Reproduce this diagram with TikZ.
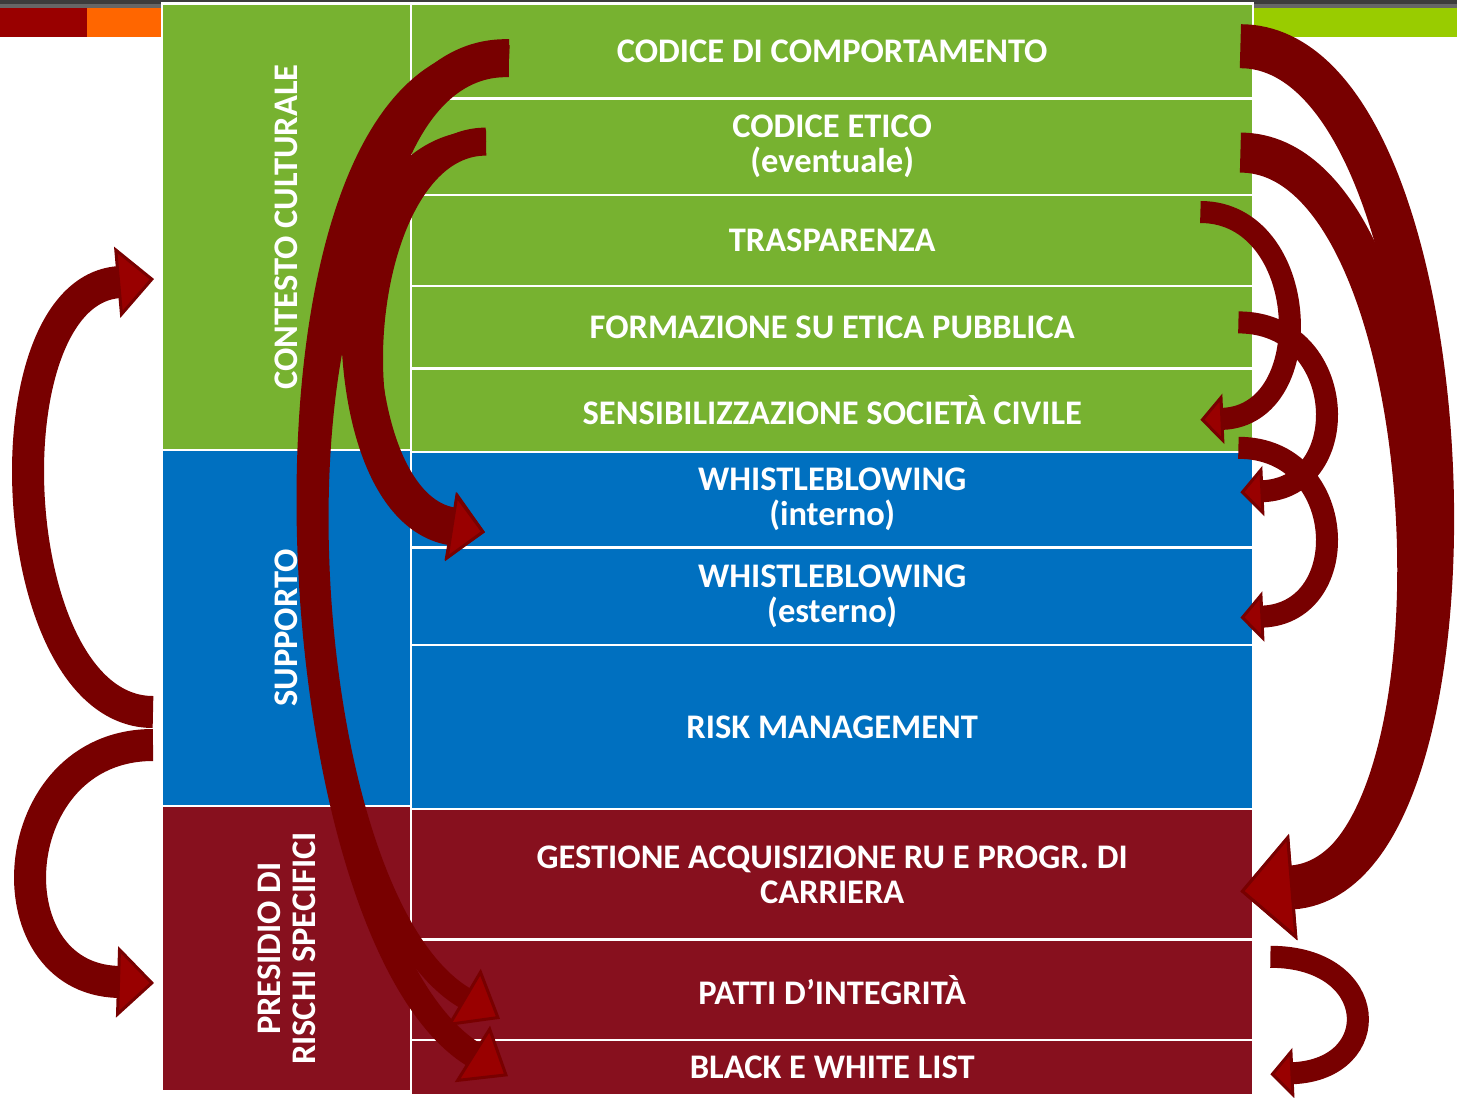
\documentclass[tikz,border=0pt]{standalone}
\usepackage{fontspec}
\setmainfont{Carlito}
\usetikzlibrary{positioning,arrows.meta}

\definecolor{leafgreen}{RGB}{119,178,48}
\definecolor{seablue}{RGB}{0,112,192}
\definecolor{wine}{RGB}{135,16,30}
\definecolor{ribbonred}{RGB}{120,0,0}
\definecolor{tipred}{RGB}{153,0,0}
\definecolor{barred}{RGB}{153,0,0}
\definecolor{barorange}{RGB}{255,102,0}
\definecolor{barlime}{RGB}{153,204,0}
\definecolor{bardark}{RGB}{60,60,60}
\definecolor{bargray}{RGB}{102,102,102}

\tikzset{
    item node/.style={rectangle, inner sep=0, minimum width=840pt, align=center, text=white, font=\fontsize{34.5}{35}\selectfont\bfseries},
    area node/.style={rectangle, inner sep=0, rotate=90, minimum height=247pt, align=center, text=white, font=\fontsize{34.5}{35}\selectfont\bfseries},
    ribbon/.style={draw=ribbonred, line width=#1},
    curl tip/.style 2 args={-{Triangle[length=#1,width=#2,line width=3pt 0,fill=tipred]}}
    }

\begin{document}
\begin{tikzpicture}[x=1pt,y=-1pt]
                \useasboundingbox (0,0) rectangle (1457,1098);
                \fill[bardark] (0,0) rectangle (1457,4);
                \fill[bargray] (0,4) rectangle (1457,7.5);
                \fill[barred] (0,7.5) rectangle (87,36.5);
                \fill[barorange] (87,7.5) rectangle (162,36.5);
                \fill[barlime] (1254,7.5) rectangle (1457,36.5);
                \fill[white] (161,2) rectangle (1254,1092);

                \node(cdc)[item node, fill=leafgreen, minimum height=92pt, anchor=north west] at (412,5) {CODICE DI COMPORTAMENTO};
                \node(etico)[item node, fill=leafgreen, minimum height=94pt, below=2pt of cdc] {CODICE ETICO\\(eventuale)};
                \node(trasp)[item node, fill=leafgreen, minimum height=89pt, below=2pt of etico] {TRASPARENZA};
                \node(form)[item node, fill=leafgreen, minimum height=80pt, below=2pt of trasp] {FORMAZIONE SU ETICA PUBBLICA};
                \node(sens)[item node, fill=leafgreen, minimum height=81pt, below=2pt of form] {SENSIBILIZZAZIONE SOCIETÀ CIVILE};
                \node(wbint)[item node, fill=seablue, minimum height=93pt, below=2pt of sens] {WHISTLEBLOWING\\(interno)};
                \node(wbest)[item node, fill=seablue, minimum height=95pt, below=2pt of wbint] {WHISTLEBLOWING\\(esterno)};
                \node(risk)[item node, fill=seablue, minimum height=162pt, below=2pt of wbest] {RISK MANAGEMENT};
                \node(ru)[item node, fill=wine, minimum height=128pt, below=2pt of risk] {GESTIONE ACQUISIZIONE RU E PROGR. DI\\CARRIERA};
                \node(patti)[item node, fill=wine, minimum height=98pt, below=2pt of ru] {PATTI D’INTEGRITÀ};
                \node(bwl)[item node, fill=wine, minimum height=53pt, below=2pt of patti] {BLACK E WHITE LIST};

                \node(cult)[area node, fill=leafgreen, minimum width=444pt] at (286.5,227) {CONTESTO CULTURALE};
                \node(supp)[area node, fill=seablue, minimum width=354pt] at (286.5,628) {SUPPORTO};
                \node(pres)[area node, fill=wine, minimum width=283pt] at (286.5,948.5) {PRESIDIO DI\\RISCHI SPECIFICI};

                \draw[ribbon=26pt, curl tip={42pt}{66pt}] ([xshift=97pt,yshift=-7pt]cdc.west) .. controls +(-279,-18) and +(-240,-150) .. ([xshift=96pt,yshift=-8.5pt]bwl.west);
                \draw[ribbon=22pt, curl tip={42pt}{66pt}] ([xshift=74pt,yshift=5pt]etico.west) .. controls +(-236,-11) and +(-220,-130) .. ([xshift=88pt,yshift=-29pt]patti.west);
                \draw[ribbon=38pt, curl tip={35pt}{69pt}] ([xshift=97pt,yshift=-7pt]cdc.west) .. controls +(-180,-5) and +(-170,-30) .. ([xshift=73pt,yshift=-32.5pt]wbint.west);
                \draw[ribbon=28pt, curl tip={35pt}{69pt}] ([xshift=74pt,yshift=5pt]etico.west) .. controls +(-136,0) and +(-160,-25) .. ([xshift=73pt,yshift=-32.5pt]wbint.west);

                \draw[ribbon=44pt, curl tip={53pt}{106pt}] ([xshift=-12pt,yshift=5pt]cdc.east) .. controls +(230,0) and +(260,-20) .. ([xshift=-12pt,yshift=-17pt]ru.east);
                \draw[ribbon=40pt, curl tip={53pt}{106pt}] ([xshift=-12pt,yshift=-6pt]etico.east) .. controls +(210,0) and +(240,-20) .. ([xshift=-12pt,yshift=-17pt]ru.east);
                \draw[ribbon=22pt, curl tip={23pt}{50pt}] ([xshift=-52pt,yshift=28.5pt]trasp.east) .. controls +(110,0) and +(120,-5) .. ([xshift=-52pt,yshift=-9.5pt]sens.east);
                \draw[ribbon=22pt, curl tip={23pt}{50pt}] ([xshift=-14pt,yshift=5pt]form.east) .. controls +(110,0) and +(115,-5) .. ([xshift=-12pt,yshift=7.5pt]wbint.east);
                \draw[ribbon=22pt, curl tip={23pt}{50pt}] ([xshift=-14pt,yshift=-37.5pt]sens.east) .. controls +(110,0) and +(115,-5) .. ([xshift=-12pt,yshift=-21.5pt]wbest.east);
                \draw[ribbon=22pt, curl tip={23pt}{50pt}] ([xshift=18pt,yshift=33pt]patti.east) .. controls +(110,0) and +(115,-5) .. ([xshift=18pt,yshift=-6.5pt]bwl.east);

                \draw[ribbon=32pt, curl tip={37pt}{71pt}] ([xshift=-133.5pt,yshift=-84pt]supp.center) .. controls +(-150,0) and +(-170,15) .. ([xshift=-132.5pt,yshift=-52pt]cult.center);
                \draw[ribbon=32pt, curl tip={37pt}{71pt}] ([xshift=-133.5pt,yshift=-117pt]supp.center) .. controls +(-150,0) and +(-165,-5) .. ([xshift=-132.5pt,yshift=-34.5pt]pres.center);
            \end{tikzpicture}
\end{document}
